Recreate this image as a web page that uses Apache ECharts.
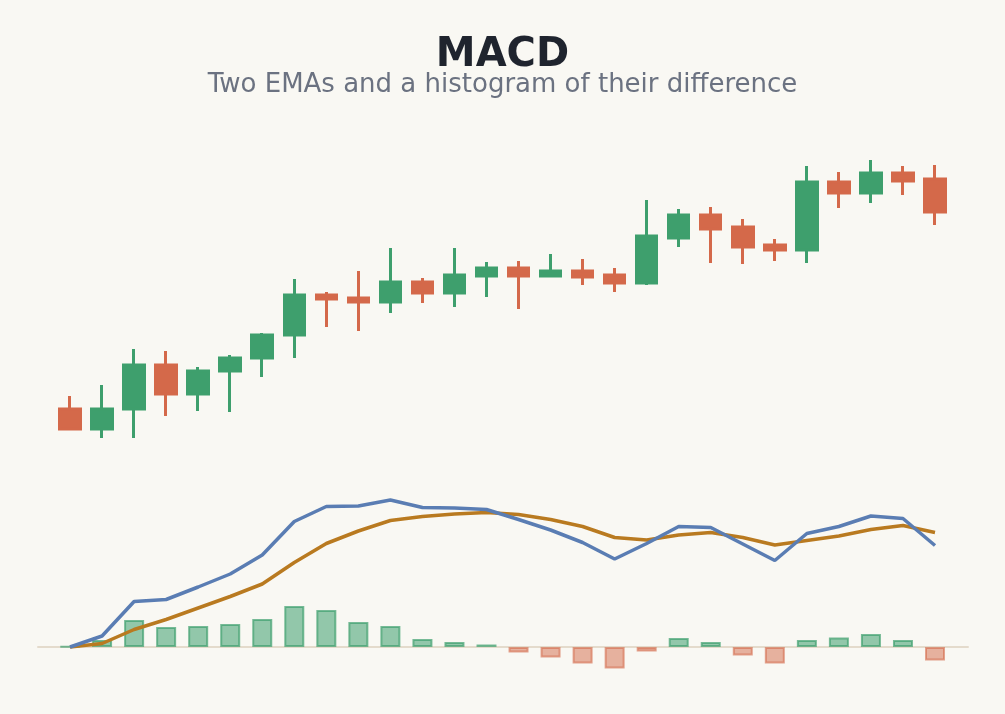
<!DOCTYPE html>
<html>
<head>
<meta charset="utf-8">
<script src="https://cdn.jsdelivr.net/npm/echarts@6/dist/echarts.min.js"></script>
<style>
html,body{margin:0;padding:0;background:#f9f8f3;}
#c{width:1005px;height:714px;}
</style>
</head>
<body>
<div id="c"></div>
<script>
var categories = ['1','2','3','4','5','6','7','8','9','10','11','12','13','14','15','16','17','18','19','20','21','22','23','24','25','26','27','28'];
var opens  = [94.1,92.1,94.1,98.5,95.6,97.9,99.2,101.5,105.5,105.2,104.8,106.8,105.7,107.4,108.2,107.4,107.9,107.5,106.7,111.2,113.5,112.3,110.5,110.0,116.8,115.7,117.7,117.1];
var closes = [92.1,94.1,98.5,95.6,97.9,99.2,101.5,105.5,105.1,104.8,106.8,105.7,107.5,108.2,107.4,107.9,107.3,106.7,111.4,113.5,112.1,110.3,110.0,116.8,115.7,117.7,116.9,113.8];
var lows   = [92.0,91.2,91.2,93.4,93.9,93.8,97.3,99.2,102.3,101.9,103.7,104.7,104.3,105.3,104.1,107.3,106.5,105.8,106.5,110.3,108.7,108.6,108.9,108.7,114.2,114.7,115.5,112.5];
var highs  = [95.4,96.5,100.1,99.9,98.3,99.5,101.7,107.1,105.8,107.9,110.2,107.2,110.2,108.8,108.9,109.6,109.1,108.2,115.0,114.1,114.3,113.1,111.1,118.4,117.8,119.0,118.4,118.5];
var macd   = [0,0.22,0.91,0.95,1.20,1.46,1.84,2.51,2.81,2.82,2.94,2.79,2.78,2.75,2.55,2.34,2.09,1.76,2.07,2.41,2.39,2.06,1.73,2.27,2.41,2.62,2.57,2.03];
var signal = [0,0.07,0.35,0.55,0.78,1.01,1.26,1.69,2.07,2.32,2.53,2.61,2.66,2.69,2.65,2.55,2.41,2.19,2.14,2.24,2.29,2.19,2.04,2.13,2.22,2.35,2.43,2.29];
var hist   = [0.01,0.14,0.54,0.40,0.42,0.46,0.56,0.82,0.74,0.50,0.42,0.16,0.10,0.05,-0.11,-0.21,-0.33,-0.43,-0.09,0.18,0.10,-0.17,-0.33,0.14,0.19,0.26,0.14,-0.27];

var UP = '#3e9f6d', DOWN = '#d4694a';
var candleData = opens.map(function(o,i){ return [o, closes[i], lows[i], highs[i]]; });
var histData = hist.map(function(v,i){
  var pos = v >= 0;
  return {value:[i,v], itemStyle:{
    color: pos ? 'rgba(62,159,109,0.55)' : 'rgba(212,105,74,0.5)',
    borderColor: pos ? 'rgba(62,159,109,0.7)' : 'rgba(212,105,74,0.6)',
    borderWidth: 2
  }};
});

var chart = echarts.init(document.getElementById('c'));
chart.setOption({
  backgroundColor:'#f9f8f3',
  animation:false,
  title:{
    text:'MACD', subtext:'Two EMAs and a histogram of their difference',
    left:'center', top:31, itemGap:-4,
    textStyle:{fontFamily:'DejaVu Sans', fontSize:40, fontWeight:'bold', color:'#1f242e'},
    subtextStyle:{fontFamily:'DejaVu Sans', fontSize:26, color:'#6b7281'}
  },
  grid:[
    {left:54, right:54, top:150, height:300},
    {left:38, right:37, top:480, height:210}
  ],
  xAxis:[
    {type:'category', gridIndex:0, data:categories, boundaryGap:true, show:false},
    {type:'value', gridIndex:1, min:-1.0, max:28.03,
     axisLine:{show:true, onZero:true, lineStyle:{color:'#e4dbcc', width:2}},
     axisTick:{show:false}, axisLabel:{show:false}, splitLine:{show:false}}
  ],
  yAxis:[
    {type:'value', gridIndex:0, min:90, max:120, show:false},
    {type:'value', gridIndex:1, min:-0.86, max:3.34, show:false}
  ],
  series:[
    {type:'candlestick', xAxisIndex:0, yAxisIndex:0, data:candleData, barWidth:21,
     itemStyle:{color:UP, color0:DOWN, borderColor:UP, borderColor0:DOWN, borderWidth:3}},
    {type:'bar', xAxisIndex:1, yAxisIndex:1, data:histData, barWidth:20},
    {type:'line', xAxisIndex:1, yAxisIndex:1, data:signal.map(function(v,i){return [i,v];}),
     showSymbol:false, symbol:'none', lineStyle:{color:'#b97a20', width:3.5}},
    {type:'line', xAxisIndex:1, yAxisIndex:1, data:macd.map(function(v,i){return [i,v];}),
     showSymbol:false, symbol:'none', lineStyle:{color:'#5a7db3', width:3.5}}
  ]
});
</script>
</body>
</html>
